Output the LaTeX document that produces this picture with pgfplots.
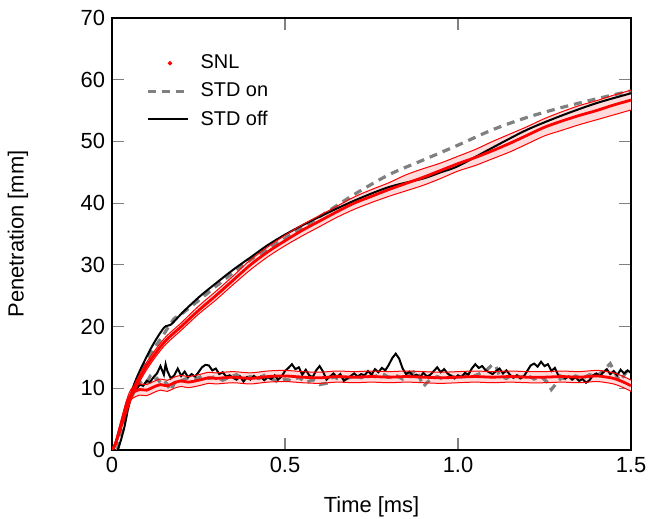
\documentclass[border=0pt]{standalone}
\usepackage{fontspec}
\setmainfont{Liberation Sans}
\usepackage{pgfplots}
\usepackage{pgfplotstable}
\pgfplotsset{compat=1.18}
\usepgfplotslibrary{fillbetween}

% SNL penetration: mean, lower and upper edge of the band
\pgfplotstableread{
t     c     lo    hi
0.000 0.0   0.0   0.0
0.010 1.0   0.6   1.4
0.030 4.5   4.0   5.0
0.060 9.4   8.8   10.0
0.100 13.6  13.0  14.2
0.150 17.4  16.8  18.0
0.200 20.0  19.4  20.6
0.250 22.6  22.0  23.3
0.300 25.0  24.3  25.7
0.350 27.5  26.8  28.2
0.400 30.0  29.2  30.8
0.450 32.1  31.3  32.9
0.500 33.9  33.1  34.8
0.550 35.6  34.7  36.5
0.600 37.1  36.2  38.0
0.650 38.6  37.7  39.5
0.700 40.0  39.0  41.0
0.750 41.1  40.1  42.2
0.800 42.2  41.1  43.3
0.850 43.2  42.0  44.6
0.900 44.2  42.9  45.6
0.950 45.3  44.0  46.5
1.000 46.4  45.2  47.6
1.050 47.4  46.1  48.7
1.100 48.5  47.2  50.0
1.150 49.7  48.3  51.2
1.200 51.0  49.6  52.4
1.250 52.3  50.9  53.7
1.300 53.3  51.8  54.8
1.350 54.2  52.7  55.8
1.400 55.0  53.5  56.6
1.450 55.9  54.3  57.5
1.500 56.7  55.1  58.3
}\snlpen

% SNL liquid length
\pgfplotstableread{
t     c     lo    hi
0.000 0.0   0.0   0.0
0.010 1.0   0.7   1.3
0.020 3.0   2.5   3.5
0.030 5.0   4.4   5.6
0.040 7.0   6.3   7.7
0.050 8.5   7.7   9.3
0.060 9.3   8.4   10.2
0.080 9.8   8.9   10.7
0.100 9.7   8.8   10.6
0.120 10.2  9.3   11.1
0.140 10.6  9.7   11.5
0.160 10.4  9.5   11.3
0.180 10.9  10.0  11.8
0.200 11.2  10.3  12.1
0.220 11.0  10.1  11.9
0.250 11.3  10.4  12.2
0.280 11.7  10.8  12.6
0.300 11.6  10.7  12.5
0.350 11.8  10.9  12.7
0.400 11.6  10.7  12.5
0.450 11.9  11.0  12.8
0.500 12.0  11.1  12.9
0.550 11.8  10.9  12.7
0.600 11.7  10.8  12.6
0.650 11.9  11.0  12.8
0.700 11.8  10.9  12.7
0.750 11.9  11.0  12.8
0.800 11.8  10.9  12.7
0.850 11.9  11.0  12.8
0.900 11.8  10.9  12.7
0.950 11.7  10.8  12.6
1.000 11.8  10.9  12.7
1.050 11.9  11.0  12.8
1.100 11.8  10.9  12.7
1.150 11.9  11.0  12.8
1.200 11.8  10.9  12.7
1.250 11.8  10.9  12.7
1.300 11.9  11.0  12.8
1.350 11.8  10.9  12.7
1.400 12.0  11.1  12.9
1.430 11.8  10.9  12.7
1.450 11.6  10.7  12.5
1.470 11.2  10.3  12.1
1.490 10.7  9.8   11.6
1.500 10.4  9.5   11.3
}\snlliq

\begin{document}
\begin{tikzpicture}
\begin{axis}[
    name=ax,
    scale only axis,
    width=259.5bp, height=216bp,
    xmin=0, xmax=1.5,
    ymin=0, ymax=70,
    xtick={0,0.5,1,1.5},
    xticklabels={0,0.5,1.0,1.5},
    ytick={0,10,...,70},
    tick align=inside,
    major tick length=6bp,
    every tick/.style={gray, line width=0.6bp},
    axis line style={line width=0.75bp},
    tick label style={font=\fontsize{11}{13}\selectfont},
    label style={font=\fontsize{11}{13}\selectfont},
    /pgf/number format/assume math mode=true,
    xlabel={Time [ms]},
    ylabel={Penetration [mm]},
    xlabel style={at={(axis description cs:0.5,-0.132)}, anchor=center},
    ylabel style={at={(axis description cs:-0.181,0.5)}, anchor=center},
    legend style={draw=none, fill=none, at={(axis description cs:0.054,0.934)},
        anchor=north west, font=\fontsize{10}{12}\selectfont, row sep=1.5bp},
    legend cell align=left,
    legend image code/.code={\draw[#1] (0bp,0bp) -- (20bp,0bp); \path (23.5bp,0bp);},
]
\addlegendimage{legend image code/.code={\fill[red] (11bp,0bp) circle (0.9bp); \path (0bp,0bp) (23.5bp,0bp);}}
\addlegendentry{SNL}
\addlegendimage{gray, line width=1.6bp, dash pattern=on 4bp off 3bp}
\addlegendentry{STD on}
\addlegendimage{black, line width=1bp}
\addlegendentry{STD off}

% SNL bands
\addplot[draw=none, name path=plo, forget plot] table[x=t, y=lo] {\snlpen};
\addplot[draw=none, name path=phi, forget plot] table[x=t, y=hi] {\snlpen};
\addplot[red!14, forget plot] fill between[of=phi and plo];
\addplot[draw=none, name path=llo, forget plot] table[x=t, y=lo] {\snlliq};
\addplot[draw=none, name path=lhi, forget plot] table[x=t, y=hi] {\snlliq};
\addplot[red!14, forget plot] fill between[of=lhi and llo];

% STD on
\addplot[gray, line width=1.6bp, dash pattern=on 4bp off 3bp, smooth, forget plot] coordinates {
(0.015,0) (0.03,3.5) (0.06,9.5) (0.1,14.5) (0.15,18.8) (0.18,21.3) (0.2,22.0)
(0.25,24.2) (0.3,26.5) (0.35,28.7) (0.4,30.8) (0.45,32.6) (0.5,34.3) (0.6,37.8) (0.7,41.4)
(0.8,44.6) (0.9,47.0) (1.0,49.4) (1.1,51.9) (1.2,53.9) (1.3,55.5) (1.4,56.9) (1.5,58.2)
};
\addplot[gray, line width=1.6bp, dash pattern=on 4bp off 3bp, forget plot] coordinates {
(0.050,8.2) (0.060,9.0) (0.070,10.0) (0.080,10.8) (0.090,11.4) (0.100,11.0)
(0.110,11.9) (0.120,11.2) (0.130,11.6) (0.140,10.9) (0.150,11.3) (0.160,10.6)
(0.170,9.6) (0.180,10.8) (0.190,11.4) (0.200,11.2) (0.220,11.7) (0.240,11.4)
(0.260,12.0) (0.280,11.6) (0.300,11.9) (0.320,11.3) (0.340,11.8) (0.360,12.2)
(0.380,11.5) (0.400,11.9) (0.420,11.4) (0.440,12.1) (0.460,11.6) (0.480,11.0)
(0.500,11.5) (0.520,11.2) (0.540,11.8) (0.560,10.9) (0.580,11.4) (0.600,10.6)
(0.620,10.8) (0.640,11.9) (0.660,11.3) (0.680,11.6) (0.700,12.0) (0.720,11.7)
(0.740,12.2) (0.760,11.9) (0.780,12.4) (0.800,11.8) (0.820,12.1) (0.840,11.5)
(0.860,12.3) (0.880,12.9) (0.890,11.6) (0.900,10.3) (0.910,10.9) (0.920,11.4)
(0.940,11.9) (0.960,11.4) (0.980,12.0) (1.000,11.6) (1.020,12.2) (1.040,11.8)
(1.060,12.3) (1.080,12.8) (1.100,13.9) (1.110,13.5) (1.120,12.0) (1.140,11.6)
(1.160,12.3) (1.180,11.8) (1.200,12.1) (1.220,11.5) (1.240,11.9) (1.260,10.9)
(1.270,9.8) (1.280,10.5) (1.290,11.2) (1.300,11.7) (1.320,11.4) (1.340,12.0)
(1.360,11.6) (1.380,12.2) (1.400,11.9) (1.420,12.8) (1.440,14.0) (1.450,12.9)
(1.460,11.8) (1.470,11.2) (1.480,12.1) (1.490,12.9) (1.500,13.3)
};

% STD off
\addplot[black, line width=1bp, smooth, forget plot] coordinates {
(0.017,0) (0.035,3.5) (0.061,10.2) (0.11,16.2) (0.15,19.8) (0.17,20.3) (0.206,22.4)
(0.254,24.9) (0.3,27.0) (0.35,29.2) (0.4,31.2) (0.45,33.2) (0.5,34.9) (0.55,36.4)
(0.6,37.8) (0.7,40.4) (0.8,42.6) (0.9,44.0) (0.95,45.0) (1.0,46.0) (1.1,49.0)
(1.2,51.9) (1.3,54.2) (1.4,56.2) (1.5,57.8)
};
\addplot[black, line width=1bp, forget plot] coordinates {
(0.050,8.5) (0.060,9.2) (0.070,9.8) (0.080,10.6) (0.090,10.4) (0.100,11.2)
(0.110,11.0) (0.120,11.8) (0.130,12.4) (0.140,13.6) (0.150,12.2) (0.155,13.9)
(0.160,12.8) (0.170,11.6) (0.180,12.1) (0.190,13.2) (0.200,12.0) (0.210,12.7)
(0.220,11.8) (0.230,12.3) (0.240,11.9) (0.250,12.6) (0.260,13.4) (0.270,13.8)
(0.280,13.7) (0.290,12.9) (0.300,13.2) (0.310,12.3) (0.320,12.6) (0.330,11.9)
(0.340,12.1) (0.350,11.7) (0.360,11.4) (0.370,11.9) (0.380,11.1) (0.390,11.8)
(0.400,11.4) (0.410,12.0) (0.420,11.6) (0.430,11.9) (0.440,11.3) (0.450,11.8)
(0.460,11.5) (0.470,12.1) (0.480,11.4) (0.490,11.9) (0.500,12.8) (0.510,13.3)
(0.520,13.9) (0.530,13.1) (0.540,13.4) (0.550,12.2) (0.560,13.0) (0.570,12.1)
(0.580,11.8) (0.590,12.9) (0.600,13.6) (0.610,12.7) (0.620,11.4) (0.630,11.9)
(0.640,12.4) (0.650,11.8) (0.660,12.3) (0.670,11.2) (0.680,11.6) (0.690,12.0)
(0.700,12.4) (0.710,11.9) (0.720,12.3) (0.730,12.1) (0.740,12.8) (0.750,12.2)
(0.760,13.1) (0.770,12.6) (0.780,13.3) (0.790,12.9) (0.800,13.8) (0.810,14.9)
(0.820,15.6) (0.830,14.8) (0.840,13.2) (0.850,12.3) (0.860,12.7) (0.870,12.0)
(0.880,12.2) (0.890,11.8) (0.900,12.5) (0.910,11.9) (0.920,12.2) (0.930,12.8)
(0.940,13.4) (0.950,12.6) (0.960,13.1) (0.970,12.4) (0.980,12.0) (0.990,11.6)
(1.000,12.1) (1.010,11.8) (1.020,12.5) (1.030,12.2) (1.040,13.2) (1.050,13.9)
(1.060,13.3) (1.070,13.6) (1.080,12.9) (1.090,12.6) (1.100,12.3) (1.110,12.8)
(1.120,13.2) (1.130,12.4) (1.140,12.9) (1.150,12.2) (1.160,11.7) (1.170,12.1)
(1.180,11.6) (1.190,11.9) (1.200,12.8) (1.210,13.7) (1.220,14.0) (1.230,13.5)
(1.240,14.3) (1.250,13.6) (1.260,13.9) (1.270,12.8) (1.280,13.3) (1.290,12.1)
(1.300,12.0) (1.310,11.6) (1.320,11.9) (1.330,11.4) (1.340,11.8) (1.350,11.2)
(1.360,11.5) (1.370,10.9) (1.380,11.3) (1.390,12.1) (1.400,12.4) (1.410,12.0)
(1.420,12.6) (1.430,13.1) (1.440,12.3) (1.450,12.8) (1.460,12.1) (1.470,13.0)
(1.480,12.4) (1.490,12.9) (1.500,12.5)
};

% SNL lines on top
\addplot[red, line width=0.5bp, smooth, forget plot] table[x=t, y=lo] {\snlpen};
\addplot[red, line width=0.5bp, smooth, forget plot] table[x=t, y=hi] {\snlpen};
\addplot[red, line width=1.4bp, smooth, forget plot] table[x=t, y=c] {\snlpen};
\addplot[red, line width=0.5bp, smooth, forget plot] table[x=t, y=lo] {\snlliq};
\addplot[red, line width=0.5bp, smooth, forget plot] table[x=t, y=hi] {\snlliq};
\addplot[red, line width=1.4bp, smooth, forget plot] table[x=t, y=c] {\snlliq};
\end{axis}
\pgfresetboundingbox
\path ([shift={(-56bp,-34.5bp)}]ax.south west) rectangle ([shift={(9bp,9bp)}]ax.north east);
\end{tikzpicture}
\end{document}
